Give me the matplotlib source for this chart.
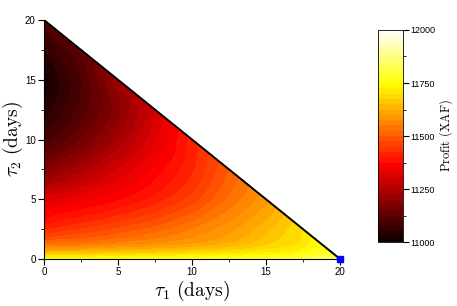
import numpy as np
import matplotlib
matplotlib.use("Agg")
import matplotlib.pyplot as plt
import matplotlib.tri as mtri
from matplotlib.ticker import MultipleLocator

plt.rcParams['mathtext.fontset'] = 'cm'
plt.rcParams['font.family'] = 'Liberation Sans'

# profit (XAF), one row per tau2 value,
# columns start at tau1 = 0 and step by 2.5 (last entry of a row sits on the edge)
tau2_rows = [0, 0.5, 1.25, 2.5, 5, 7.5, 10, 12.5, 15, 17.5, 20]
tau1_rows = [
    [0, 2.5, 5, 7.5, 10, 12.5, 15, 17.5, 20],
    [0, 2.5, 5, 7.5, 10, 12.5, 15, 17.5, 19.5],
    [0, 2.5, 5, 7.5, 10, 12.5, 15, 17.5, 18.75],
    [0, 2.5, 5, 7.5, 10, 12.5, 15, 17.5],
    [0, 2.5, 5, 7.5, 10, 12.5, 15],
    [0, 2.5, 5, 7.5, 10, 12.5],
    [0, 2.5, 5, 7.5, 10],
    [0, 2.5, 5, 7.5],
    [0, 2.5, 5],
    [0, 2.5],
    [0],
]
profit_rows = [
    [11760, 11760, 11765, 11770, 11775, 11785, 11800, 11820, 11850],
    [11650, 11655, 11665, 11675, 11690, 11705, 11725, 11750, 11790],
    [11530, 11540, 11560, 11580, 11600, 11630, 11670, 11710, 11760],
    [11420, 11450, 11480, 11510, 11550, 11590, 11640, 11700],
    [11310, 11340, 11370, 11410, 11460, 11530, 11590],
    [11180, 11240, 11300, 11360, 11420, 11500],
    [11090, 11150, 11230, 11320, 11410],
    [11035, 11110, 11190, 11300],
    [11015, 11100, 11220],
    [11050, 11130],
    [11120],
]
optimum = (20, 0)

x, y, z = [], [], []
for t2, t1s, ps in zip(tau2_rows, tau1_rows, profit_rows):
    for t1, p in zip(t1s, ps):
        x.append(t1)
        y.append(t2)
        z.append(p)
x = np.array(x, float)
y = np.array(y, float)
z = np.array(z, float)

tri = mtri.Triangulation(x, y)
interp = mtri.CubicTriInterpolator(tri, z, kind='geom')
refiner = mtri.UniformTriRefiner(tri)
tri_f, z_f = refiner.refine_field(z, triinterpolator=interp, subdiv=3)
z_f = np.clip(z_f, 11000, 12000)

fig = plt.figure(figsize=(4.57, 3.06), dpi=100)
ax = fig.add_axes([0.0963, 0.1536, 0.6477, 0.781])
levels = np.linspace(11000, 12000, 41)
cs = ax.tricontourf(tri_f, z_f, levels=levels, cmap='hot', vmin=11000, vmax=12000)

ax.plot([0, 20], [20, 0], color='black', lw=1.4)
ax.plot(*optimum, marker='s', color='#0000ff', ms=5, clip_on=False, zorder=5)

ax.set_xlim(0, 20)
ax.set_ylim(0, 20)
ax.spines['top'].set_visible(False)
ax.spines['right'].set_visible(False)
ax.xaxis.set_major_locator(MultipleLocator(5))
ax.xaxis.set_minor_locator(MultipleLocator(2.5))
ax.yaxis.set_major_locator(MultipleLocator(5))
ax.yaxis.set_minor_locator(MultipleLocator(2.5))
ax.tick_params(which='major', length=4, width=0.8, labelsize=7, pad=2)
ax.tick_params(which='minor', length=2, width=0.6)
ax.set_xlabel(r'$\tau_1\ (\mathrm{days})$', fontsize=14, labelpad=1)
ax.set_ylabel(r'$\tau_2\ (\mathrm{days})$', fontsize=14, labelpad=0)

cax = fig.add_axes([0.827, 0.209, 0.0547, 0.693])
cb = fig.colorbar(cs, cax=cax, ticks=[11000, 11250, 11500, 11750, 12000])
cb.ax.yaxis.set_minor_locator(MultipleLocator(125))
cb.ax.tick_params(which='major', length=4, width=0.8, labelsize=6.5, pad=1)
cb.ax.tick_params(which='minor', length=2, width=0.6)
cb.outline.set_linewidth(0.6)
cb.set_label(r'$\mathrm{Profit\ (XAF)}$', fontsize=9, labelpad=2)

fig.savefig('out.png', dpi=100)
